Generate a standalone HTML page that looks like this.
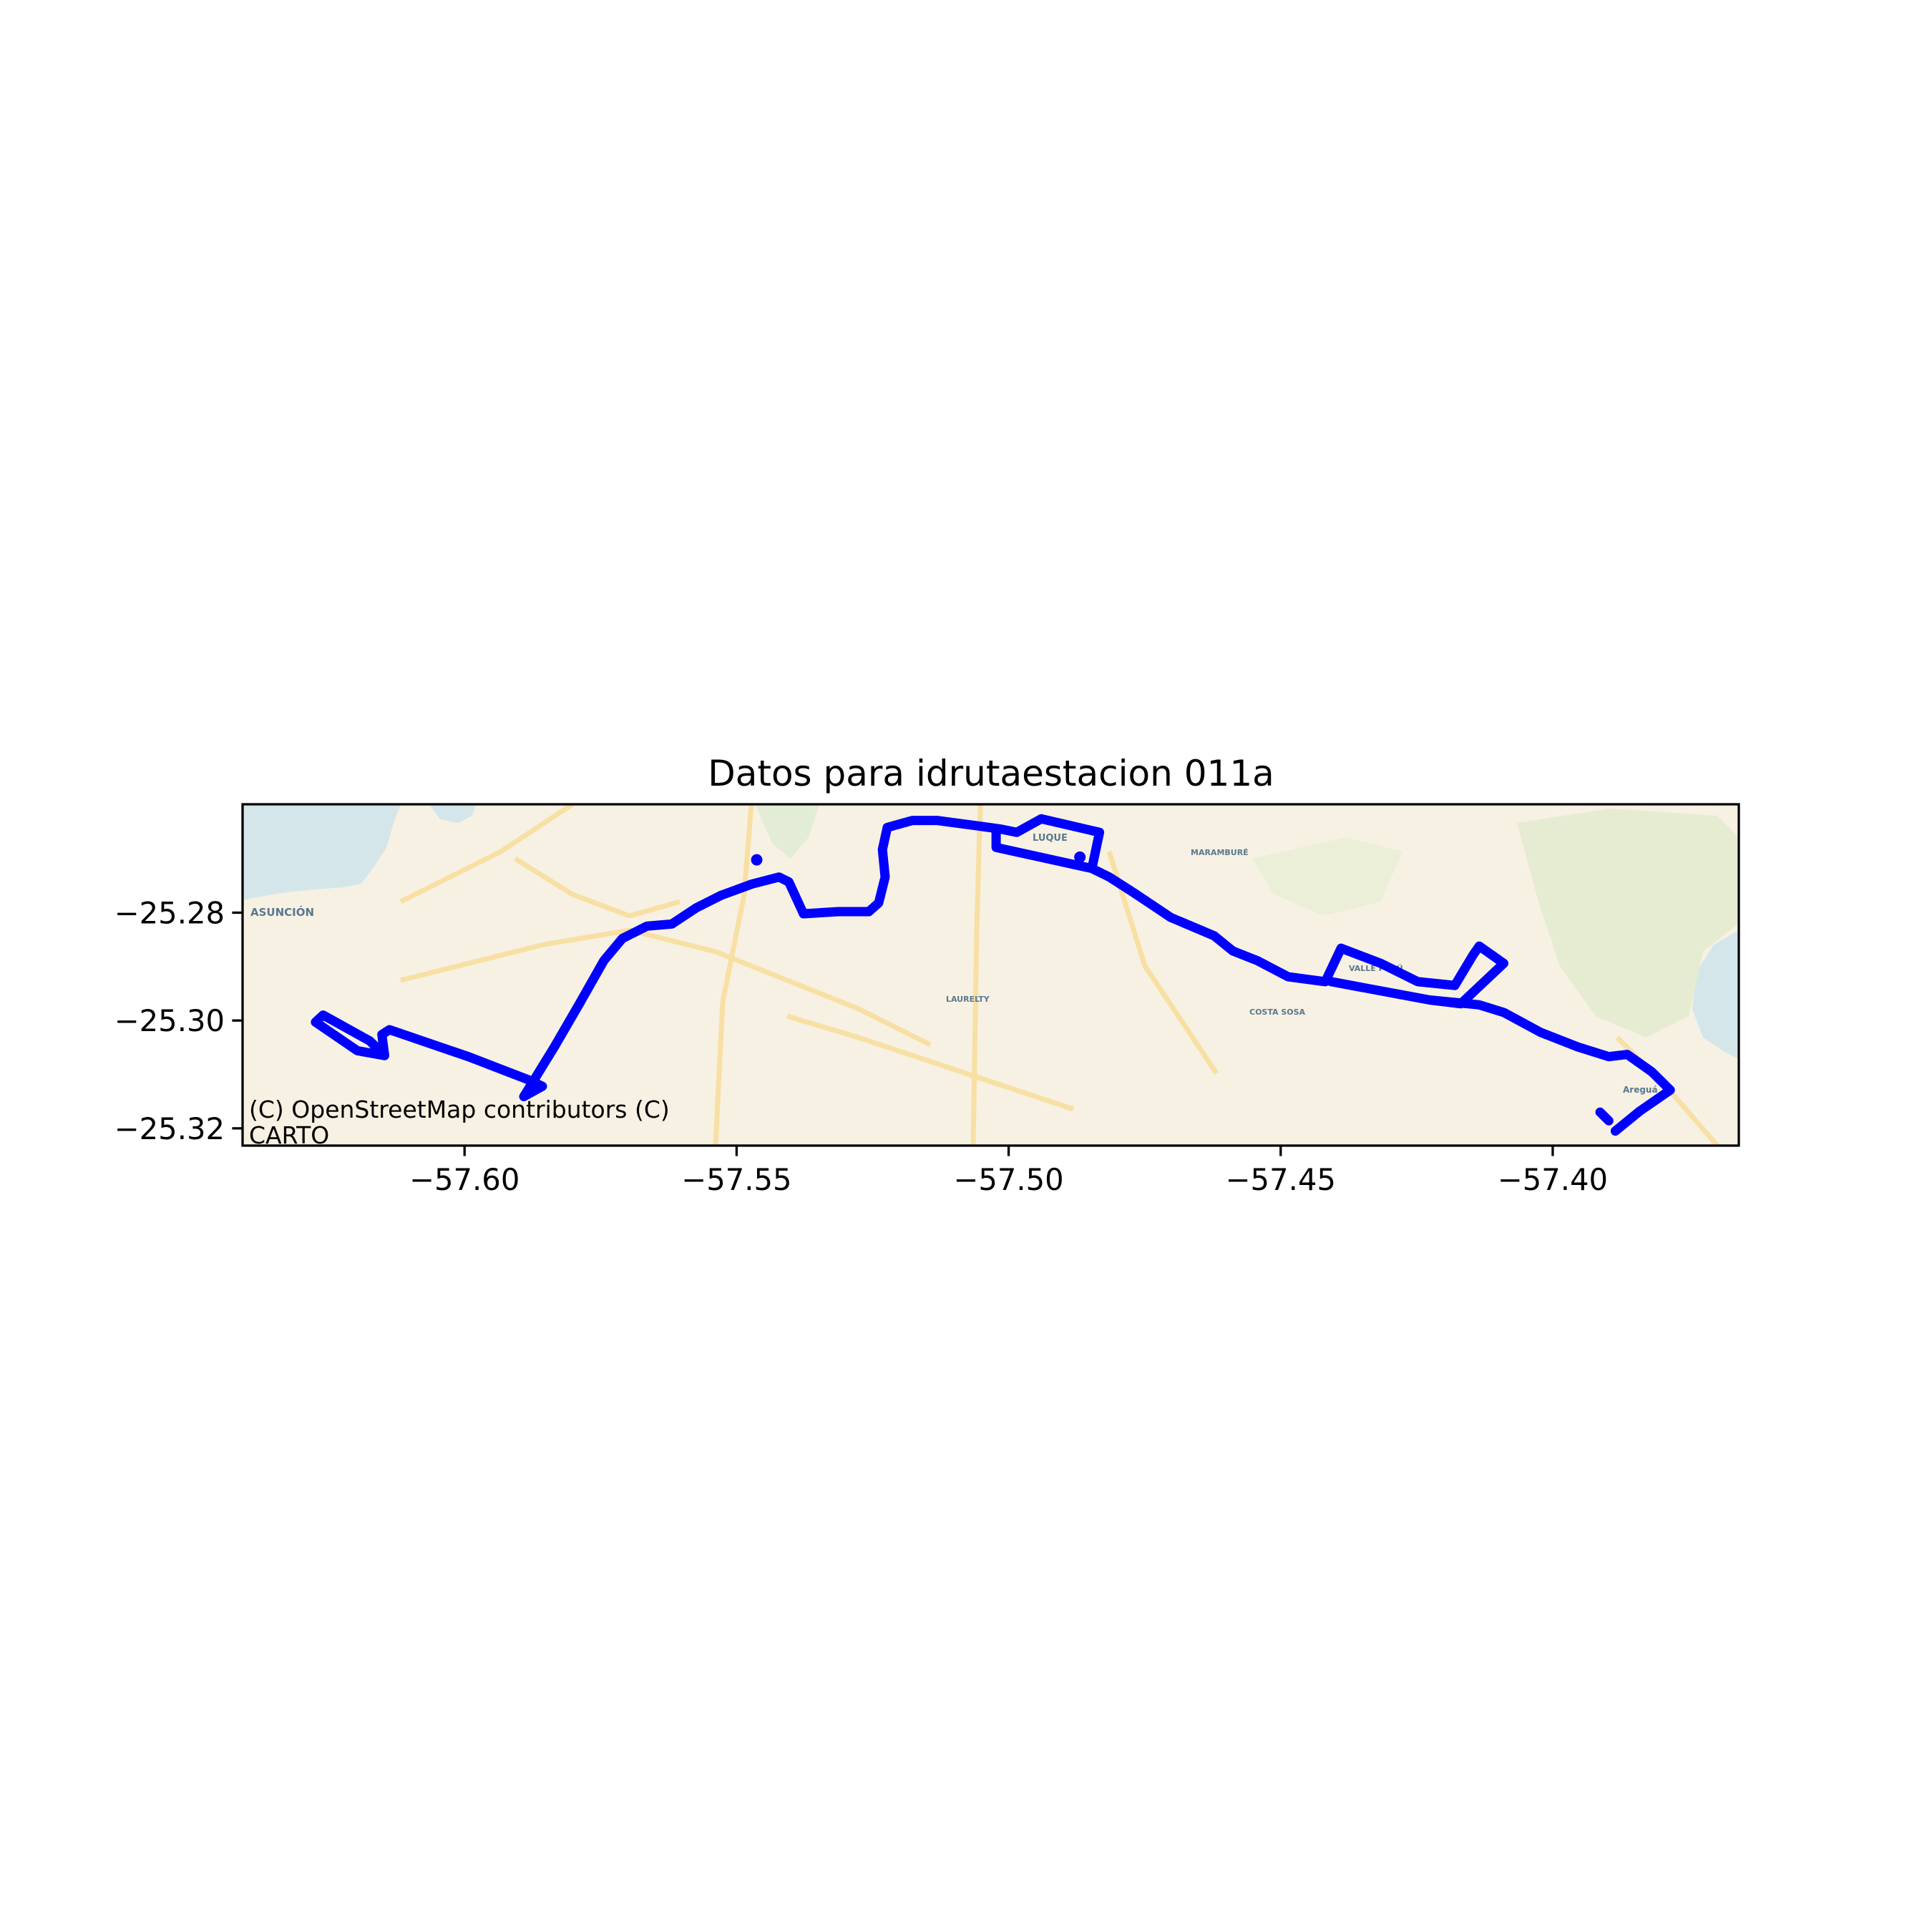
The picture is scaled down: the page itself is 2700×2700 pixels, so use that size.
<!DOCTYPE html>
<html><head><meta charset="utf-8"><style>
html,body{margin:0;padding:0;background:#fff;}
svg{display:block;font-family:"DejaVu Sans","Liberation Sans",sans-serif;}
</style></head><body>
<svg id="chart" width="2700" height="2700" viewBox="0 0 2700 2700" xmlns="http://www.w3.org/2000/svg">
<defs><clipPath id="clip"><rect x="339" y="1124" width="2091" height="477"/></clipPath></defs>
<text x="1385" y="1098" font-size="50" text-anchor="middle" fill="#000">Datos para idrutaestacion 011a</text>
<g id="map" clip-path="url(#clip)">
<rect x="339" y="1124" width="2091" height="477" fill="#f7f1e3"/>
<polygon fill="#d5e6ea" points="339,1124 560,1124 550,1150 540,1185 520,1215 505,1235 480,1240 440,1243 400,1247 370,1252 339,1258"/>
<polygon fill="#d5e6ea" points="600,1124 665,1124 660,1140 640,1150 615,1145"/>
<polygon fill="#d5e6ea" points="2430,1300 2395,1320 2370,1360 2365,1410 2380,1450 2410,1470 2430,1480"/>
<polygon fill="#e6ecd2" points="2120,1150 2250,1130 2400,1140 2430,1170 2430,1290 2380,1330 2360,1420 2300,1450 2230,1420 2180,1350 2150,1260"/>
<polygon fill="#ecefd8" points="1750,1200 1880,1170 1960,1190 1930,1260 1850,1280 1780,1250"/>
<polygon fill="#e3ecd6" points="1055,1124 1145,1124 1130,1170 1105,1200 1080,1180"/>
<g stroke="#f8dfa3" stroke-width="7" fill="none">
<path d="M560,1260 L700,1190 L800,1124"/>
<path d="M560,1370 L760,1320 L880,1300 L1000,1330 L1200,1410 L1300,1460"/>
<path d="M1050,1124 L1040,1250 L1010,1400 L1000,1601"/>
<path d="M1370,1124 L1365,1300 L1360,1601"/>
<path d="M1550,1190 L1600,1350 L1700,1500"/>
<path d="M1100,1420 L1200,1450 L1350,1500 L1500,1550"/>
<path d="M2260,1450 L2330,1520 L2400,1601"/>
<path d="M720,1200 L800,1250 L880,1280 L950,1260"/>
</g>
<g fill="#5a7890" font-size="11" font-weight="bold">
<text x="350" y="1280" font-size="15">ASUNCIÓN</text>
<text x="1443" y="1175" font-size="13">LUQUE</text>
<text x="2268" y="1527" font-size="12">Areguá</text>
<text x="1885" y="1357">VALLE PUCÚ</text>
<text x="1746" y="1418">COSTA SOSA</text>
<text x="1664" y="1195">MARAMBURÉ</text>
<text x="1322" y="1400">LAURELTY</text>
</g>
</g>
<g id="route" clip-path="url(#clip)"></g>
<rect x="339" y="1124" width="2091" height="477" fill="none" stroke="#000" stroke-width="3.3"/>
<g id="xaxis"></g>
<g id="yaxis"></g>
<g font-size="33" fill="#000">
<text x="348" y="1562">(C) OpenStreetMap contributors (C)</text>
<text x="348" y="1598">CARTO</text>
</g>
</svg>
<script>
const xTicks = [-57.60, -57.55, -57.50, -57.45, -57.40];
const xTickLabels = ["\u221257.60", "\u221257.55", "\u221257.50", "\u221257.45", "\u221257.40"];
const yTicks = [-25.28, -25.30, -25.32];
const yTickLabels = ["\u221225.28", "\u221225.30", "\u221225.32"];
const leftLoopLon = [-57.5891,-57.5857,-57.5880,-57.5993,-57.6138,-57.6152,-57.6147,-57.6197,-57.6274,-57.6260,-57.6174,-57.6147];
const leftLoopLat = [-25.3141,-25.3122,-25.3111,-25.3067,-25.3017,-25.3026,-25.3065,-25.3056,-25.3003,-25.2990,-25.3038,-25.3065];
const mainLon = [-57.5891,-57.5835,-57.5789,-57.5744,-57.5710,-57.5665,-57.5619,-57.5574,-57.5529,-57.5472,-57.5422,-57.5404,-57.5377,-57.5313,-57.5257,-57.5239,-57.5227,-57.5232,-57.5223,-57.5177,-57.5132,-57.5064,-57.5014,-57.4985,-57.4940,-57.4833,-57.4847,-57.5023,-57.5023,-57.5023,-57.4847,-57.4815,-57.4770,-57.4702,-57.4622,-57.4588,-57.4543,-57.4486,-57.4418,-57.4389,-57.4316,-57.4248,-57.4180,-57.4146,-57.4135,-57.4090,-57.4169,-57.4226,-57.4407,-57.4226,-57.4135,-57.4090,-57.4022,-57.3954,-57.3897,-57.3863,-57.3818,-57.3784,-57.3840,-57.3885];
const mainLat = [-25.3141,-25.3049,-25.2969,-25.2889,-25.2848,-25.2825,-25.2821,-25.2791,-25.2768,-25.2747,-25.2734,-25.2743,-25.2802,-25.2798,-25.2798,-25.2782,-25.2734,-25.2683,-25.2642,-25.2629,-25.2629,-25.2638,-25.2645,-25.2651,-25.2626,-25.2651,-25.2718,-25.2679,-25.2651,-25.2679,-25.2718,-25.2734,-25.2763,-25.2809,-25.2843,-25.2871,-25.2889,-25.2919,-25.2928,-25.2866,-25.2894,-25.2928,-25.2935,-25.2878,-25.2862,-25.2894,-25.2969,-25.2962,-25.2928,-25.2962,-25.2971,-25.2985,-25.3022,-25.3049,-25.3067,-25.3063,-25.3095,-25.3129,-25.3168,-25.3205];
const stubLon = [-57.3913,-57.3897];
const stubLat = [-25.3170,-25.3186];
const dotLon = [-57.5463,-57.4869];
const dotLat = [-25.2702,-25.2697];

const X0=-57.6408, X1=-57.3658, Y0=-25.2599, Y1=-25.3232;
const PL=339, PR=2430, PT=1124, PB=1601;
function sx(v){return PL+(v-X0)/(X1-X0)*(PR-PL);}
function sy(v){return PT+(v-Y0)/(Y1-Y0)*(PB-PT);}
const NS='http://www.w3.org/2000/svg';
const route=document.getElementById('route');
function line(lons,lats,name){
  const p=document.createElementNS(NS,'polyline');
  p.setAttribute('points',lons.map((v,i)=>sx(v).toFixed(1)+','+sy(lats[i]).toFixed(1)).join(' '));
  p.setAttribute('fill','none');p.setAttribute('stroke','#0000ff');p.setAttribute('stroke-width','13');
  p.setAttribute('stroke-linejoin','round');p.setAttribute('stroke-linecap','round');
  
  
  route.appendChild(p);
}
line(leftLoopLon,leftLoopLat,'route-left-loop');
line(mainLon,mainLat,'route-main-line');
line(stubLon,stubLat,'route-east-stub');
dotLon.forEach((v,i)=>{
  const c=document.createElementNS(NS,'circle');
  c.setAttribute('cx',sx(v));c.setAttribute('cy',sy(dotLat[i]));c.setAttribute('r','8');c.setAttribute('fill','#0000ff');
  
  
  route.appendChild(c);
});
const xa=document.getElementById('xaxis');
xTicks.forEach((v,i)=>{
  const x=sx(v);
  const t=document.createElementNS(NS,'line');
  t.setAttribute('x1',x);t.setAttribute('x2',x);t.setAttribute('y1',PB);t.setAttribute('y2',PB+14.6);
  t.setAttribute('stroke','#000');t.setAttribute('stroke-width','3.3');
  
  
  xa.appendChild(t);
  const l=document.createElementNS(NS,'text');
  l.setAttribute('x',x);l.setAttribute('y',PB+62);l.setAttribute('font-size','41.7');l.setAttribute('text-anchor','middle');
  l.textContent=xTickLabels[i];
  
  
  xa.appendChild(l);
});
const ya=document.getElementById('yaxis');
yTicks.forEach((v,i)=>{
  const y=sy(v);
  const t=document.createElementNS(NS,'line');
  t.setAttribute('x1',PL-14.6);t.setAttribute('x2',PL);t.setAttribute('y1',y);t.setAttribute('y2',y);
  t.setAttribute('stroke','#000');t.setAttribute('stroke-width','3.3');
  
  
  ya.appendChild(t);
  const l=document.createElementNS(NS,'text');
  l.setAttribute('x',PL-25);l.setAttribute('y',y+15);l.setAttribute('font-size','41.7');l.setAttribute('text-anchor','end');
  l.textContent=yTickLabels[i];
  
  
  ya.appendChild(l);
});
</script>
</body></html>
